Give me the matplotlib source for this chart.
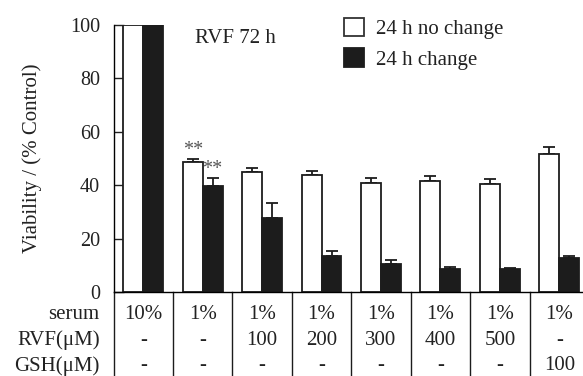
import matplotlib
matplotlib.use("Agg")
import matplotlib.pyplot as plt
import numpy as np
from matplotlib.patches import Patch

plt.rcParams['font.family'] = ['Liberation Serif', 'DejaVu Serif']

# ---- data ----
serum = ['10%', '1%', '1%', '1%', '1%', '1%', '1%', '1%']
rvf = ['-', '-', '100', '200', '300', '400', '500', '-']
gsh = ['-', '-', '-', '-', '-', '-', '-', '100']
row_labels = ['serum', 'RVF(\u03bcM)', 'GSH(\u03bcM)']
no_change = [100, 48.6, 44.8, 43.8, 40.9, 41.6, 40.3, 51.6]
no_change_err = [0, 1.2, 1.8, 1.6, 1.9, 2.0, 2.0, 2.8]
change = [100, 39.8, 27.6, 13.5, 10.4, 8.6, 8.7, 12.6]
change_err = [0, 3.0, 5.8, 1.9, 1.5, 0.6, 0.4, 0.9]
series_labels = ['24 h no change', '24 h change']

W, H = 583, 376
fig = plt.figure(figsize=(W / 100, H / 100), dpi=100)
ax_left, ax_right, ax_top, ax_bot = 114, 583, 25, 292
ax = fig.add_axes([ax_left / W, 1 - ax_bot / H, (ax_right - ax_left) / W, (ax_bot - ax_top) / H])

x = np.arange(len(serum))
bw = 0.336
black = '#1c1c1c'
ax.bar(x - bw / 2, no_change, bw, color='white', edgecolor=black, linewidth=1.3, zorder=2)
ax.bar(x + bw / 2, change, bw, color=black, edgecolor=black, linewidth=1.3, zorder=2)
nz = [i for i in range(len(x)) if no_change_err[i] > 0]
ax.errorbar(x[nz] - bw / 2, np.array(no_change)[nz], yerr=[np.zeros(len(nz)), np.array(no_change_err)[nz]],
            fmt='none', ecolor=black, elinewidth=1.3, capsize=4.6, capthick=1.3, zorder=1)
nz2 = [i for i in range(len(x)) if change_err[i] > 0]
ax.errorbar(x[nz2] + bw / 2, np.array(change)[nz2], yerr=[np.zeros(len(nz2)), np.array(change_err)[nz2]],
            fmt='none', ecolor=black, elinewidth=1.3, capsize=4.6, capthick=1.3, zorder=1)

xl = -(143.2 - ax_left) / 59.44
xr = (ax_right - 143.2) / 59.44
ax.set_xlim(xl, xr)
ax.set_ylim(0, 100)
ax.set_yticks([0, 20, 40, 60, 80, 100])
ax.tick_params(axis='y', direction='in', length=7, width=1, labelsize=14.5, pad=10, colors='#222222')
ax.set_xticks([])
for s in ['top', 'right']:
    ax.spines[s].set_visible(False)
ax.spines['left'].set_linewidth(1)
ax.spines['bottom'].set_linewidth(1)
ax.set_ylabel('Viability / (% Control)', fontsize=15, labelpad=20, color='#222222')

# significance marks
ax.text(1 - bw / 2, 53.0, '**', ha='center', va='center', fontsize=14.5, color='#555555')
ax.text(1 + bw / 2, 46.0, '**', ha='center', va='center', fontsize=14.5, color='#555555')

ax.text(0.875, 95.1, 'RVF 72 h', ha='left', va='center', fontsize=15, color='#222222')

# condition table below the axis
row_y = [-8.6, -18.0, -27.7]
for ry, lab, vals in zip(row_y, row_labels, [serum, rvf, gsh]):
    ax.text(xl - 0.24, ry, lab, ha='right', va='center', fontsize=15, clip_on=False, color='#222222')
    for xi, v in zip(x, vals):
        ax.text(xi, ry, v, ha='center', va='center', fontsize=15, clip_on=False, color='#222222')
for b in [xl] + list(x[:-1] + 0.5):
    ax.plot([b, b], [0, -40], color=black, lw=1, clip_on=False)

handles = [Patch(facecolor='white', edgecolor='#333333', linewidth=1.3),
           Patch(facecolor=black, edgecolor=black, linewidth=1.3)]
leg = ax.legend(handles, series_labels, frameon=False, fontsize=15, loc='upper left',
                bbox_to_anchor=(343.5 / W, 1 - 17.5 / H), bbox_transform=fig.transFigure,
                borderpad=0, handlelength=1.0, handleheight=1.0, handletextpad=0.55,
                labelspacing=0.45, borderaxespad=0)
for t in leg.get_texts():
    t.set_color('#222222')

fig.savefig('out.png', dpi=100)
